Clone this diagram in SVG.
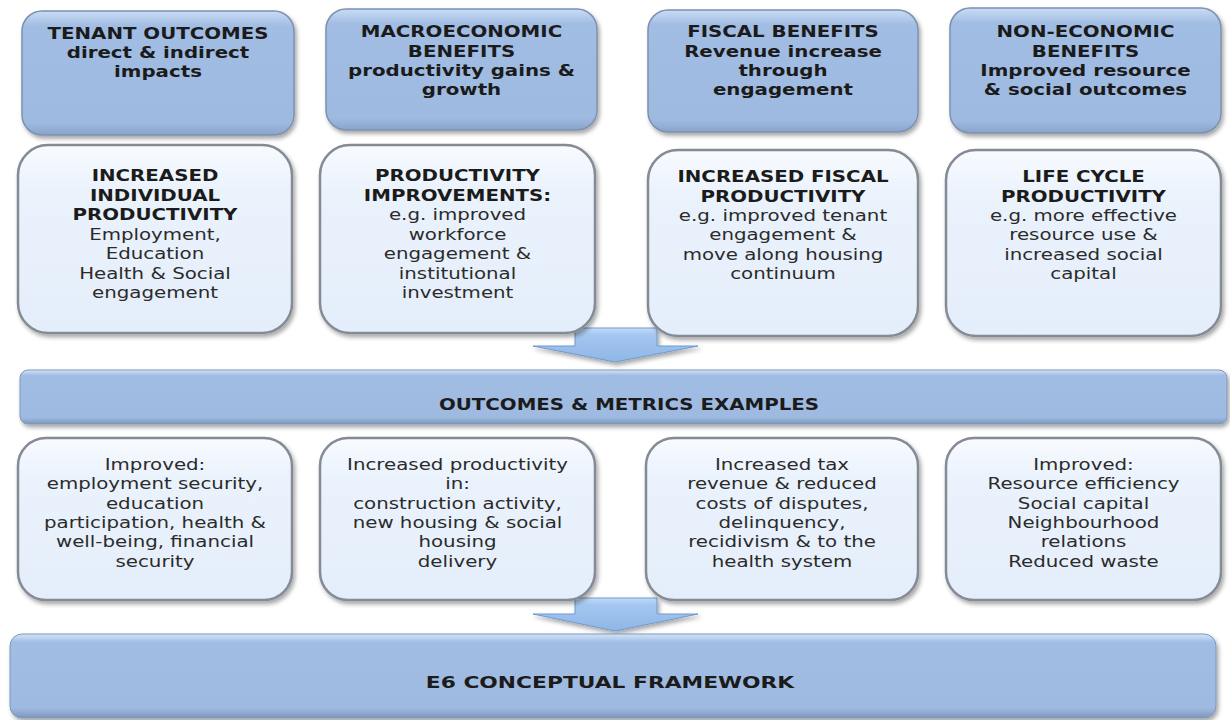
<svg xmlns="http://www.w3.org/2000/svg" width="1230" height="720" viewBox="0 0 1230 720">
<defs>
<filter id="sh" x="-10%" y="-10%" width="125%" height="130%">
<feDropShadow dx="2" dy="3" stdDeviation="2" flood-color="#000" flood-opacity="0.35"/>
</filter>
<linearGradient id="lg" x1="0" y1="0" x2="0" y2="1">
<stop offset="0" stop-color="#f8fbff"/>
<stop offset="0.25" stop-color="#eaf2fc"/>
<stop offset="1" stop-color="#e4eefa"/>
</linearGradient>
<linearGradient id="hg" x1="0" y1="0" x2="0" y2="1">
<stop offset="0" stop-color="#c9dcf5"/>
<stop offset="0.12" stop-color="#a2bde3"/>
<stop offset="0.9" stop-color="#9fbae1"/>
<stop offset="1" stop-color="#8aa3c8"/>
</linearGradient>
<linearGradient id="bg" x1="0" y1="0" x2="0" y2="1">
<stop offset="0" stop-color="#d3e5fa"/>
<stop offset="0.1" stop-color="#a2bde3"/>
<stop offset="0.88" stop-color="#9fbae1"/>
<stop offset="1" stop-color="#7e96ba"/>
</linearGradient>
<linearGradient id="ag" x1="0" y1="0" x2="0" y2="1">
<stop offset="0" stop-color="#c4dcf8"/>
<stop offset="0.2" stop-color="#a4c7f1"/>
<stop offset="1" stop-color="#8fb6e6"/>
</linearGradient>
</defs>
<style>
.hdr{fill:url(#hg);stroke:#7c91b0;stroke-width:1.5;filter:url(#sh)}
.lt{fill:url(#lg);stroke:#858b95;stroke-width:2.5;filter:url(#sh)}
.band{fill:url(#bg);stroke:#7f97bb;stroke-width:1;filter:url(#sh)}
.arrow{fill:url(#ag);stroke:#6f9ad0;stroke-width:1;filter:url(#sh)}
text{font-family:"DejaVu Sans",Verdana,sans-serif;font-size:15px;text-anchor:middle;fill:#1b1b1b}
.b{font-weight:bold}
.r{font-weight:normal;fill:#2b2b2b}
.big{font-size:16.5px}
</style>
<rect width="1230" height="720" fill="#ffffff"/>
<g id="connectors">
<polygon class="arrow" points="575,328 657,328 657,346 698,346 615,362 533,346 575,346"/>
<polygon class="arrow" points="575,598 657,598 657,614 698,614 615,631 533,614 575,614"/>
</g>
<g id="tenant-outcomes">
<rect class="hdr" x="22" y="11" width="272" height="124" rx="20"/>
<text class="b" transform="translate(158,0) scale(1.32,1)"><tspan x="0" y="39">TENANT OUTCOMES</tspan><tspan x="0" y="58">direct &amp; indirect</tspan><tspan x="0" y="77">impacts</tspan></text>
</g>
<g id="macroeconomic-benefits">
<rect class="hdr" x="326" y="9" width="271" height="121" rx="20"/>
<text class="b" transform="translate(461.5,0) scale(1.32,1)"><tspan x="0" y="37">MACROECONOMIC</tspan><tspan x="0" y="57">BENEFITS</tspan><tspan x="0" y="76">productivity gains &amp;</tspan><tspan x="0" y="95">growth</tspan></text>
</g>
<g id="fiscal-benefits">
<rect class="hdr" x="648" y="10" width="270" height="122" rx="20"/>
<text class="b" transform="translate(783,0) scale(1.32,1)"><tspan x="0" y="37">FISCAL BENEFITS</tspan><tspan x="0" y="57">Revenue increase</tspan><tspan x="0" y="76">through</tspan><tspan x="0" y="95">engagement</tspan></text>
</g>
<g id="non-economic-benefits">
<rect class="hdr" x="950" y="8" width="271" height="125" rx="20"/>
<text class="b" transform="translate(1085.5,0) scale(1.32,1)"><tspan x="0" y="37">NON-ECONOMIC</tspan><tspan x="0" y="57">BENEFITS</tspan><tspan x="0" y="76">Improved resource</tspan><tspan x="0" y="95">&amp; social outcomes</tspan></text>
</g>
<g id="individual-productivity">
<rect class="lt" x="18" y="145" width="274" height="188" rx="30"/>
<text transform="translate(155,0) scale(1.32,1)"><tspan class="b" x="0" y="181">INCREASED</tspan><tspan class="b" x="0" y="201">INDIVIDUAL</tspan><tspan class="b" x="0" y="220">PRODUCTIVITY</tspan><tspan class="r" x="0" y="240">Employment,</tspan><tspan class="r" x="0" y="259">Education</tspan><tspan class="r" x="0" y="279">Health &amp; Social</tspan><tspan class="r" x="0" y="298">engagement</tspan></text>
</g>
<g id="productivity-improvements">
<rect class="lt" x="320" y="145" width="275" height="188" rx="30"/>
<text transform="translate(457.5,0) scale(1.32,1)"><tspan class="b" x="0" y="181">PRODUCTIVITY</tspan><tspan class="b" x="0" y="201">IMPROVEMENTS:</tspan><tspan class="r" x="0" y="220">e.g. improved</tspan><tspan class="r" x="0" y="240">workforce</tspan><tspan class="r" x="0" y="259">engagement &amp;</tspan><tspan class="r" x="0" y="279">institutional</tspan><tspan class="r" x="0" y="298">investment</tspan></text>
</g>
<g id="fiscal-productivity">
<rect class="lt" x="648" y="150" width="270" height="186" rx="30"/>
<text transform="translate(783,0) scale(1.32,1)"><tspan class="b" x="0" y="182">INCREASED FISCAL</tspan><tspan class="b" x="0" y="202">PRODUCTIVITY</tspan><tspan class="r" x="0" y="221">e.g. improved tenant</tspan><tspan class="r" x="0" y="240">engagement &amp;</tspan><tspan class="r" x="0" y="260">move along housing</tspan><tspan class="r" x="0" y="279">continuum</tspan></text>
</g>
<g id="life-cycle-productivity">
<rect class="lt" x="946" y="150" width="275" height="186" rx="30"/>
<text transform="translate(1083.5,0) scale(1.32,1)"><tspan class="b" x="0" y="182">LIFE CYCLE</tspan><tspan class="b" x="0" y="202">PRODUCTIVITY</tspan><tspan class="r" x="0" y="221">e.g. more effective</tspan><tspan class="r" x="0" y="240">resource use &amp;</tspan><tspan class="r" x="0" y="260">increased social</tspan><tspan class="r" x="0" y="279">capital</tspan></text>
</g>
<g id="outcomes-metrics">
<rect class="band" x="20" y="370" width="1207" height="54" rx="8"/>
<text class="b" transform="translate(629,0) scale(1.32,1)"><tspan x="0" y="410">OUTCOMES &amp; METRICS EXAMPLES</tspan></text>
</g>
<g id="metrics-tenant">
<rect class="lt" x="18" y="438" width="274" height="162" rx="28"/>
<text class="r" transform="translate(155,0) scale(1.32,1)"><tspan x="0" y="470">Improved:</tspan><tspan x="0" y="489">employment security,</tspan><tspan x="0" y="509">education</tspan><tspan x="0" y="528">participation, health &amp;</tspan><tspan x="0" y="547">well-being, financial</tspan><tspan x="0" y="567">security</tspan></text>
</g>
<g id="metrics-macro">
<rect class="lt" x="320" y="438" width="275" height="162" rx="28"/>
<text class="r" transform="translate(457.5,0) scale(1.32,1)"><tspan x="0" y="470">Increased productivity</tspan><tspan x="0" y="489">in:</tspan><tspan x="0" y="509">construction activity,</tspan><tspan x="0" y="528">new housing &amp; social</tspan><tspan x="0" y="547">housing</tspan><tspan x="0" y="567">delivery</tspan></text>
</g>
<g id="metrics-fiscal">
<rect class="lt" x="646" y="438" width="272" height="162" rx="28"/>
<text class="r" transform="translate(782,0) scale(1.32,1)"><tspan x="0" y="470">Increased tax</tspan><tspan x="0" y="489">revenue &amp; reduced</tspan><tspan x="0" y="509">costs of disputes,</tspan><tspan x="0" y="528">delinquency,</tspan><tspan x="0" y="547">recidivism &amp; to the</tspan><tspan x="0" y="567">health system</tspan></text>
</g>
<g id="metrics-non-economic">
<rect class="lt" x="946" y="438" width="275" height="162" rx="28"/>
<text class="r" transform="translate(1083.5,0) scale(1.32,1)"><tspan x="0" y="470">Improved:</tspan><tspan x="0" y="489">Resource efficiency</tspan><tspan x="0" y="509">Social capital</tspan><tspan x="0" y="528">Neighbourhood</tspan><tspan x="0" y="547">relations</tspan><tspan x="0" y="567">Reduced waste</tspan></text>
</g>
<g id="e6-framework">
<rect class="band" x="10" y="634" width="1206" height="84" rx="12"/>
<text class="b big" transform="translate(610,0) scale(1.32,1)"><tspan x="0" y="688">E6 CONCEPTUAL FRAMEWORK</tspan></text>
</g>
</svg>
